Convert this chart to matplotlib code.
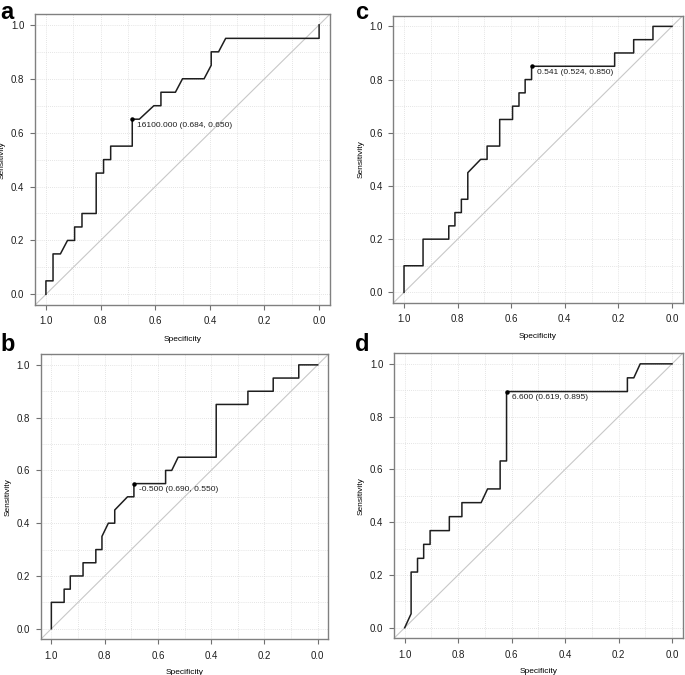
import numpy as np
import matplotlib
matplotlib.use('Agg')
import matplotlib.pyplot as plt

plt.rcParams['font.family'] = ['Liberation Sans', 'DejaVu Sans']

# ROC curve vertices (specificity, sensitivity)
spec_a = [1.0, 1.0, 0.974, 0.974, 0.947, 0.921, 0.895, 0.895, 0.868, 0.868, 0.816, 0.816,
          0.789, 0.789, 0.763, 0.763, 0.684, 0.684, 0.658, 0.605, 0.579, 0.579, 0.526, 0.500,
          0.421, 0.395, 0.395, 0.368, 0.342, 0.0, 0.0]
sens_a = [0.0, 0.05, 0.05, 0.15, 0.15, 0.20, 0.20, 0.25, 0.25, 0.30, 0.30, 0.45,
          0.45, 0.50, 0.50, 0.55, 0.55, 0.65, 0.65, 0.70, 0.70, 0.75, 0.75, 0.80,
          0.80, 0.85, 0.90, 0.90, 0.95, 0.95, 1.0]

spec_b = [1.0, 1.0, 0.952, 0.952, 0.929, 0.929, 0.881, 0.881, 0.833, 0.833, 0.810, 0.810,
          0.786, 0.762, 0.762, 0.714, 0.690, 0.690, 0.571, 0.571, 0.548, 0.524, 0.381,
          0.381, 0.262, 0.262, 0.167, 0.167, 0.071, 0.071, 0.0]
sens_b = [0.0, 0.10, 0.10, 0.15, 0.15, 0.20, 0.20, 0.25, 0.25, 0.30, 0.30, 0.35,
          0.40, 0.40, 0.45, 0.50, 0.50, 0.55, 0.55, 0.60, 0.60, 0.65, 0.65,
          0.85, 0.85, 0.90, 0.90, 0.95, 0.95, 1.0, 1.0]

spec_c = [1.0, 1.0, 0.929, 0.929, 0.833, 0.833, 0.810, 0.810, 0.786, 0.786, 0.762, 0.762,
          0.714, 0.690, 0.690, 0.643, 0.643, 0.595, 0.595, 0.571, 0.571, 0.548, 0.548,
          0.524, 0.524, 0.214, 0.214, 0.143, 0.143, 0.071, 0.071, 0.0]
sens_c = [0.0, 0.10, 0.10, 0.20, 0.20, 0.25, 0.25, 0.30, 0.30, 0.35, 0.35, 0.45,
          0.50, 0.50, 0.55, 0.55, 0.65, 0.65, 0.70, 0.70, 0.75, 0.75, 0.80,
          0.80, 0.85, 0.85, 0.90, 0.90, 0.95, 0.95, 1.0, 1.0]

spec_d = [1.0, 0.976, 0.976, 0.952, 0.952, 0.929, 0.929, 0.905, 0.905, 0.833, 0.833,
          0.786, 0.786, 0.714, 0.690, 0.643, 0.643, 0.619, 0.619, 0.167, 0.167,
          0.143, 0.119, 0.0]
sens_d = [0.0, 0.053, 0.211, 0.211, 0.263, 0.263, 0.316, 0.316, 0.368, 0.368, 0.421,
          0.421, 0.474, 0.474, 0.526, 0.526, 0.632, 0.632, 0.895, 0.895, 0.947,
          0.947, 1.0, 1.0]

# best thresholds: (label, specificity, sensitivity)
thr_a = ('16100.000', 0.684, 0.650)
thr_b = ('-0.500', 0.690, 0.550)
thr_c = ('0.541', 0.524, 0.850)
thr_d = ('6.600', 0.619, 0.895)

panels = [
    ('a', spec_a, sens_a, thr_a, [35 / 685, 0.548, 0.4307, 0.4311]),
    ('b', spec_b, sens_b, thr_b, [40.7 / 685, 0.0529, 0.4199, 0.4222]),
    ('c', spec_c, sens_c, thr_c, [393.3 / 685, 0.5511, 0.4225, 0.4256]),
    ('d', spec_d, sens_d, thr_d, [394 / 685, 0.0544, 0.4215, 0.4222]),
]

fig = plt.figure(figsize=(6.85, 6.75), dpi=100)

for letter, sp, se, thr, rect in panels:
    ax = fig.add_axes(rect)
    ax.set_xlim(1.04, -0.04)
    ax.set_ylim(-0.04, 1.04)
    grid = np.arange(0, 1.01, 0.1)
    for g in grid:
        ax.axvline(g, color='#dcdcdc', lw=0.6, ls=(0, (1, 1.5)), zorder=0)
        ax.axhline(g, color='#dcdcdc', lw=0.6, ls=(0, (1, 1.5)), zorder=0)
    ax.plot([1.1, -0.1], [-0.1, 1.1], color='#c8c8c8', lw=0.8, zorder=1)
    ax.plot(sp, se, color='#1e1e1e', lw=1.1, zorder=2)
    lab, tx, ty = thr
    ax.plot([tx], [ty], 'o', color='black', ms=2.2, zorder=3)
    ax.annotate(f'{lab} ({tx:.3f}, {ty:.3f})', (tx, ty), xytext=(3.6, -4.3),
                textcoords='offset points', ha='left', va='center', fontsize=6,
                color='#1e1e1e')
    ticks = np.arange(0, 1.01, 0.2)
    ax.set_xticks(ticks)
    ax.set_yticks(ticks)
    ax.set_xticklabels([f'{t:.1f}' for t in ticks])
    ax.set_yticklabels([f'{t:.1f}' for t in ticks])
    ax.tick_params(length=3.6, width=0.8, color='#707070', labelsize=7,
                   labelcolor='#1e1e1e')
    ax.tick_params(axis='x', pad=4.5)
    ax.tick_params(axis='y', pad=4.0)
    for s in ax.spines.values():
        s.set_color('#808080')
        s.set_linewidth(1.0)
    ax.set_xlabel('Specificity', fontsize=6)
    ax.set_ylabel('Sensitivity', fontsize=6)
    ax.xaxis.set_label_coords(0.5, -0.105)
    ax.yaxis.set_label_coords(-0.1, 0.5)

# panel letters
lkw = dict(fontsize=17, fontweight='bold', ha='left', va='top',
           family=['Liberation Sans', 'DejaVu Sans'])
fig.text(0.001, 0.998, 'a', **lkw)
fig.text(355 / 685, 0.998, 'c', **lkw)
fig.text(0.001, 1 - 333 / 675, 'b', **lkw)
fig.text(355 / 685, 1 - 333 / 675, 'd', **lkw)

fig.savefig('out.png', dpi=100)
